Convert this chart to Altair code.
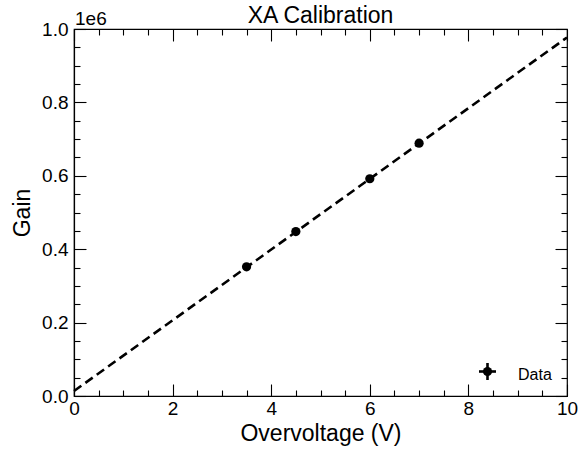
import altair as alt
import pandas as pd

# Measured gain at each overvoltage
overvoltage = [3.5, 4.5, 6.0, 7.0]
gain = [352000, 448000, 592000, 689000]

# Linear fit drawn across the full range
fit_overvoltage = [0.0, 10.0]
fit_gain = [13600, 977000]

# Tick positions (drawn inward on all four sides)
x_major = [0, 2, 4, 6, 8, 10]
x_minor = [0.5, 1.0, 1.5, 2.5, 3.0, 3.5, 4.5, 5.0, 5.5,
           6.5, 7.0, 7.5, 8.5, 9.0, 9.5]
y_major = [0, 200000, 400000, 600000, 800000, 1000000]
y_minor = [50000, 100000, 150000, 250000, 300000, 350000, 450000, 500000,
           550000, 650000, 700000, 750000, 850000, 900000, 950000]

W, H = 493, 367
FONT = "Liberation Sans"
MAJOR, MINOR = 12, 6

xs = alt.Scale(domain=[0, 10], nice=False, zero=False)
ys = alt.Scale(domain=[0, 1000000], nice=False, zero=False)

x_axis = alt.Axis(orient="bottom", values=x_major, ticks=False, grid=False,
                  format="d", labelFontSize=19, labelPadding=3,
                  titleFontSize=23, titleFontWeight="normal", titlePadding=4,
                  domainColor="black", domainWidth=1.2, labelColor="black",
                  titleColor="black", labelFont=FONT, titleFont=FONT,
                  labelFlush=False)
y_axis = alt.Axis(orient="left", values=y_major, ticks=False, grid=False,
                  labelExpr="format(datum.value / 1000000, '.1f')",
                  labelFontSize=19, labelPadding=6, titleFontSize=23,
                  titleFontWeight="normal", titlePadding=7,
                  domainColor="black", domainWidth=1.2, labelColor="black",
                  titleColor="black", labelFont=FONT, titleFont=FONT,
                  labelFlush=False)

fit_df = pd.DataFrame({"v": fit_overvoltage, "g": fit_gain})
pts_df = pd.DataFrame({"v": overvoltage, "g": gain})

fit = alt.Chart(fit_df).mark_line(
    color="black", strokeWidth=2.6, strokeDash=[9, 5]
).encode(
    x=alt.X("v:Q", scale=xs, axis=None),
    y=alt.Y("g:Q", scale=ys, axis=None),
)

pts = alt.Chart(pts_df).mark_circle(
    color="black", size=85, opacity=1
).encode(
    x=alt.X("v:Q", scale=xs, axis=x_axis, title="Overvoltage (V)"),
    y=alt.Y("g:Q", scale=ys, axis=y_axis, title="Gain"),
)


def tick_axis(orient, values, size):
    # Axis pulled inside the frame so its outward ticks end on the border
    return alt.Axis(orient=orient, values=values, offset=-size, tickSize=size,
                    ticks=True, labels=False, domain=False, grid=False,
                    tickColor="black", tickWidth=1.1, title=None)


def tick_layer(x_orient, y_orient, xv, yv, size):
    return alt.Chart(pts_df).mark_point(opacity=0).encode(
        x=alt.X("v:Q", scale=xs, axis=tick_axis(x_orient, xv, size), title=None),
        y=alt.Y("g:Q", scale=ys, axis=tick_axis(y_orient, yv, size), title=None),
    )


ticks = [
    tick_layer("bottom", "left", x_major, y_major, MAJOR),
    tick_layer("bottom", "left", x_minor, y_minor, MINOR),
    tick_layer("top", "right", x_major, y_major, MAJOR),
    tick_layer("top", "right", x_minor, y_minor, MINOR),
]

# Legend entry: error-bar style marker with label
legend_df = pd.DataFrame({"label": ["Data"]})
lx, ly = 413.5, 342.5
leg_h = alt.Chart(legend_df).mark_rule(color="black", strokeWidth=2.6).encode(
    x=alt.value(lx - 8.5), x2=alt.value(lx + 8.5), y=alt.value(ly))
leg_v = alt.Chart(legend_df).mark_rule(color="black", strokeWidth=2.6).encode(
    x=alt.value(lx), y=alt.value(ly - 8.5), y2=alt.value(ly + 8.5))
leg_dot = alt.Chart(legend_df).mark_circle(color="black", size=85, opacity=1).encode(
    x=alt.value(lx), y=alt.value(ly))
leg_txt = alt.Chart(legend_df).mark_text(
    align="left", baseline="alphabetic", fontSize=16, font=FONT, color="black"
).encode(x=alt.value(444), y=alt.value(351), text="label:N")

# Axis multiplier shown above the y axis
mult_df = pd.DataFrame({"t": ["1e6"]})
mult = alt.Chart(mult_df).mark_text(
    align="left", baseline="alphabetic", fontSize=19, font=FONT, color="black"
).encode(x=alt.value(1), y=alt.value(-4), text="t:N")

# Chart heading
head_df = pd.DataFrame({"t": ["XA Calibration"]})
head = alt.Chart(head_df).mark_text(
    align="center", baseline="alphabetic", fontSize=23, font=FONT, color="black"
).encode(x=alt.value(W / 2), y=alt.value(-6.5), text="t:N")

chart = alt.layer(
    fit, pts, *ticks, leg_h, leg_v, leg_dot, leg_txt, mult, head
).resolve_axis(
    x="independent", y="independent"
).properties(
    width=W, height=H,
    autosize=alt.AutoSizeParams(type="none"),
    padding={"left": 74, "top": 29, "right": 21, "bottom": 56},
    background="white",
).configure_view(stroke="black", strokeWidth=1.2)

chart.save("out.html", embed_options={"renderer": "svg", "actions": False})
